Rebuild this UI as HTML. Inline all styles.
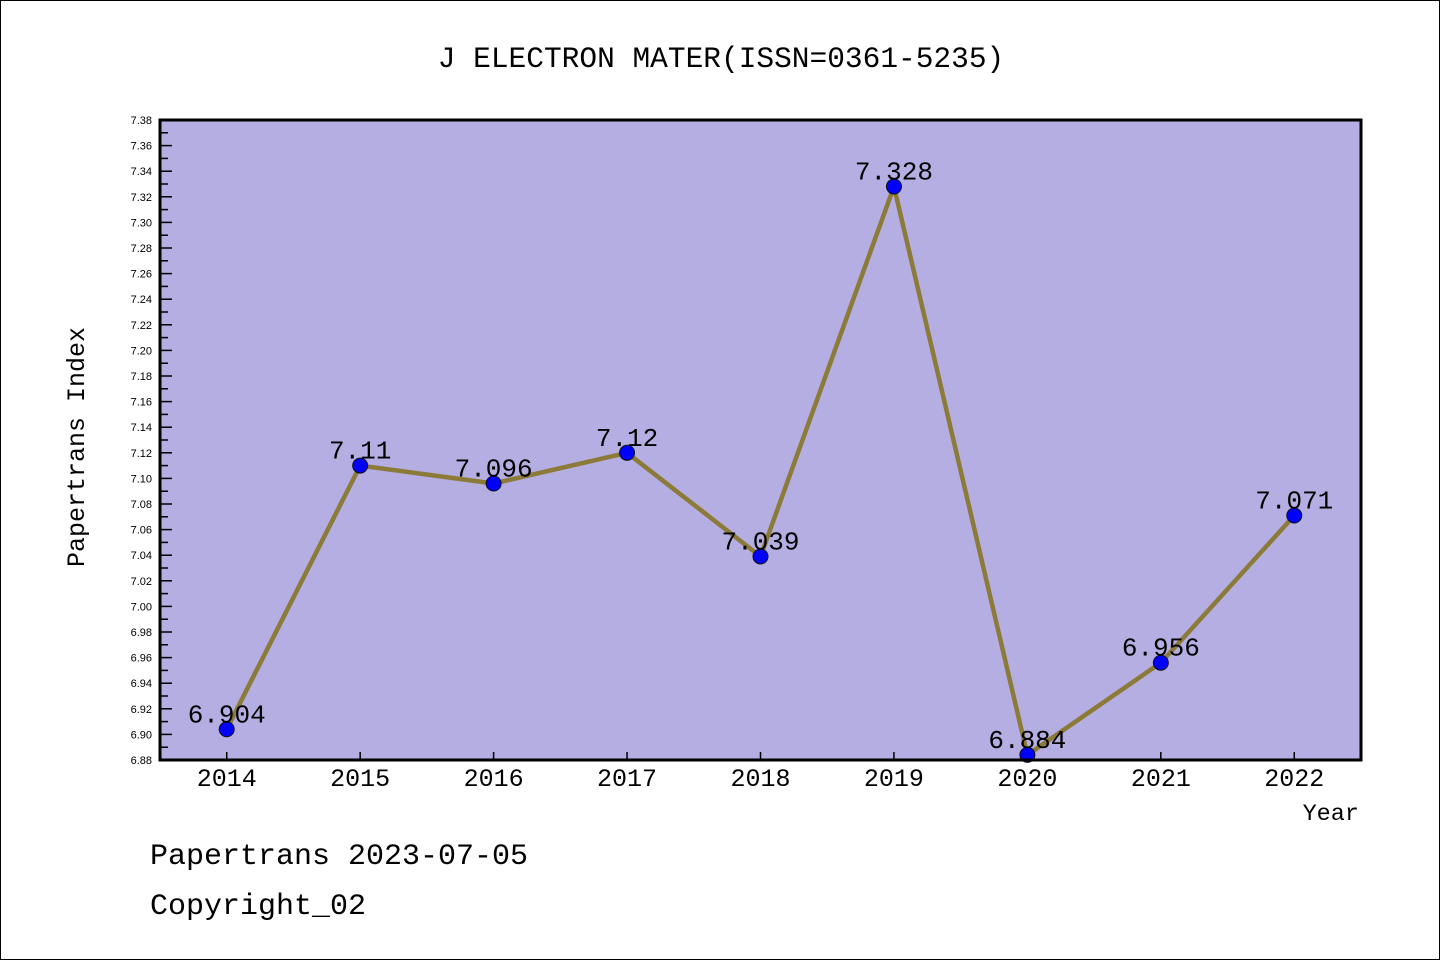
<!DOCTYPE html>
<html><head><meta charset="utf-8"><style>
body{margin:0;background:#fff;}
svg{display:block;font-family:"Liberation Mono","WenQuanYi Zen Hei",monospace;}
</style></head><body>
<svg width="1440" height="960">
<rect x="0.5" y="0.5" width="1439" height="959" fill="#fff" stroke="#000"/>
<text x="721" y="67" font-size="29.5" text-anchor="middle">J ELECTRON MATER(ISSN=0361-5235)</text>
<rect x="160" y="120" width="1201" height="640" fill="#b5aee2"/>
<g id="yaxis"></g>
<g id="xaxis"></g>
<g id="series"></g>
<rect x="160" y="120" width="1201" height="640" fill="none" stroke="#000" stroke-width="3"/>
<text x="84" y="447" font-size="25" text-anchor="middle" transform="rotate(-90 84 447)">Papertrans Index</text>
<text x="1359" y="820" font-size="23.5" text-anchor="end">Year</text>
<text x="150" y="864" font-size="30">Papertrans 2023-07-05</text>
<text x="150" y="914" font-size="30">Copyright_02</text>
</svg>
<script>
const categories=["2014","2015","2016","2017","2018","2019","2020","2021","2022"];
const values=[6.904,7.11,7.096,7.12,7.039,7.328,6.884,6.956,7.071];
const valueLabels=["6.904","7.11","7.096","7.12","7.039","7.328","6.884","6.956","7.071"];
const yMin=6.88,yMax=7.38,yStep=0.02;
const NS="http://www.w3.org/2000/svg";
const L=160,R=1361,T=120,B=760;
const step=(R-L)/categories.length;
function xs(i){return L+step*(i+0.5);}
function ys(v){return B-(v-yMin)/(yMax-yMin)*(B-T);}
function mk(tag,attrs,parent,text){const e=document.createElementNS(NS,tag);for(const k in attrs)e.setAttribute(k,attrs[k]);if(text!==undefined)e.textContent=text;parent.appendChild(e);return e;}
const ya=document.getElementById('yaxis'),xa=document.getElementById('xaxis'),sg=document.getElementById('series');
const n=Math.round((yMax-yMin)/yStep);
for(let k=0;k<=n;k++){const v=yMin+k*yStep,y=ys(v);
 const t=mk('line',{x1:L,x2:L+12,y1:y,y2:y,stroke:'#000','stroke-width':1.5},ya);
 
 const lb=mk('text',{x:152,y:y+4,'font-size':11,'font-family':'Liberation Sans, sans-serif','text-anchor':'end'},ya,v.toFixed(2));
 
 if(k<n){const ym=ys(v+yStep/2);const m=mk('line',{x1:L,x2:L+8,y1:ym,y2:ym,stroke:'#000','stroke-width':1.5},ya);
 }
}
categories.forEach((c,i)=>{const x=xs(i);
 const t=mk('line',{x1:x,x2:x,y1:B,y2:B-8,stroke:'#000','stroke-width':1.5},xa);
 
 const lb=mk('text',{x:x,y:B+26,'font-size':25,'text-anchor':'middle'},xa,c);
 
});
const pts=values.map((v,i)=>xs(i)+','+ys(v)).join(' ');
const pl=mk('polyline',{points:pts,fill:'none',stroke:'#8c7a38','stroke-width':4.5,'stroke-linejoin':'round'},sg);

values.forEach((v,i)=>{
 const c=mk('circle',{cx:xs(i),cy:ys(v),r:7.5,fill:'#0000ff',stroke:'#111','stroke-width':1},sg);
 
 const t=mk('text',{x:xs(i),y:ys(v)-7,'font-size':26,'text-anchor':'middle'},sg,valueLabels[i]);
 
});
</script>
</body></html>
